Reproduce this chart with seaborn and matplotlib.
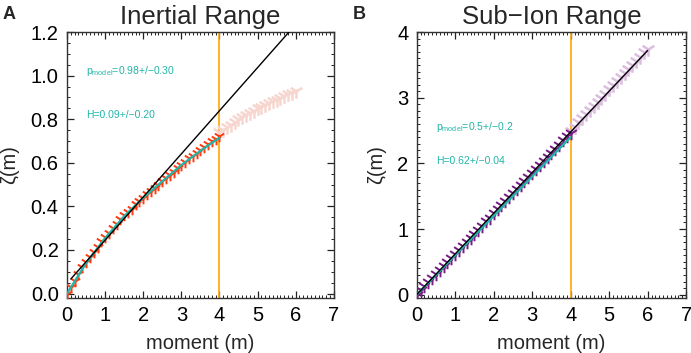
import numpy as np
import matplotlib
matplotlib.use("Agg")
import matplotlib.pyplot as plt
from matplotlib.ticker import MultipleLocator
import pandas as pd
import seaborn as sns

# panel A: inertial range
m_fit = [round(0.1 * i, 1) for i in range(41)]
m_ext = [round(4.0 + 0.1 * i, 1) for i in range(21)]
zeta_A = [0.00, 0.03, 0.06, 0.09, 0.12, 0.145, 0.17, 0.19, 0.215, 0.24,
          0.26, 0.28, 0.30, 0.32, 0.34, 0.36, 0.375, 0.39, 0.41, 0.425,
          0.44, 0.455, 0.47, 0.485, 0.50, 0.515, 0.53, 0.545, 0.56, 0.575,
          0.59, 0.605, 0.62, 0.633, 0.646, 0.659, 0.672, 0.685, 0.698, 0.71,
          0.722]
zeta_A_ext = [0.74, 0.752, 0.764, 0.776, 0.788, 0.80, 0.81, 0.82, 0.83, 0.84,
              0.85, 0.858, 0.866, 0.874, 0.882, 0.89, 0.898, 0.906, 0.914,
              0.922, 0.93]
model_m = [0, 0.5, 1, 1.5, 2, 2.5, 3, 3.5, 4]
model_A = [0.0, 0.14, 0.255, 0.355, 0.44, 0.515, 0.59, 0.655, 0.715]
k41_m_A = [0.1, 6.0]
k41_A = [0.067, 1.235]

# panel B: sub-ion range
zeta_B = [0.00, 0.065, 0.13, 0.19, 0.255, 0.315, 0.375, 0.44, 0.50, 0.56,
          0.62, 0.68, 0.745, 0.805, 0.865, 0.93, 0.99, 1.05, 1.115, 1.175,
          1.24, 1.30, 1.36, 1.425, 1.485, 1.545, 1.61, 1.67, 1.73, 1.795,
          1.855, 1.915, 1.98, 2.04, 2.10, 2.165, 2.225, 2.285, 2.35, 2.41,
          2.47]
zeta_B_ext = [2.50, 2.56, 2.63, 2.69, 2.75, 2.82, 2.88, 2.94, 3.00, 3.06,
              3.13, 3.19, 3.25, 3.31, 3.38, 3.44, 3.50, 3.56, 3.62, 3.69,
              3.75]
model_B = [0.0, 0.30, 0.60, 0.90, 1.20, 1.50, 1.80, 2.10, 2.40]
k41_m_B = [0.0, 6.0]
k41_B = [0.0, 3.72]

panels = [
    dict(title="Inertial Range", letter="A", z=zeta_A, zx=zeta_A_ext, mod=model_A,
         km=k41_m_A, k=k41_A, col="#ff3a10", colx="#f7d6d0", ylim=(-0.02, 1.2),
         major=0.2, minor=0.05, fmt="%.1f", ms=70,
         txt=["p$_{\\mathregular{model}}$=0.98+/\u22120.30", "H=0.09+/\u22120.20"],
         ty=[1.02, 0.82]),
    dict(title="Sub\u2212Ion Range", letter="B", z=zeta_B, zx=zeta_B_ext, mod=model_B,
         km=k41_m_B, k=k41_B, col="#761c84", colx="#dcbde0", ylim=(-0.05, 4.0),
         major=1, minor=0.1, fmt="%d", ms=95,
         txt=["p$_{\\mathregular{model}}$=0.5+/\u22120.2", "H=0.62+/\u22120.04"],
         ty=[2.56, 2.04]),
]

sns.set_style("ticks")
plt.rcParams["font.family"] = ["Liberation Sans", "DejaVu Sans"]
plt.rcParams["mathtext.fontset"] = "custom"
plt.rcParams["mathtext.rm"] = "Liberation Sans"
plt.rcParams["mathtext.it"] = "Liberation Sans"

fig = plt.figure(figsize=(6.91, 3.53), dpi=100)
boxes = [[0.097, 0.156, 0.386, 0.753], [0.603, 0.156, 0.39, 0.753]]
teal = "#22b5a8"

for p, box in zip(panels, boxes):
    ax = fig.add_axes(box)
    df = pd.DataFrame({"m": m_fit, "zeta": p["z"]})
    dfx = pd.DataFrame({"m": m_ext, "zeta": p["zx"]})
    sns.scatterplot(data=dfx, x="m", y="zeta", ax=ax, marker="1", s=110,
                    color=p["colx"], linewidth=1.8, zorder=2)
    sns.scatterplot(data=df, x="m", y="zeta", ax=ax, marker="1", s=p["ms"],
                    color=p["col"], linewidth=1.4, zorder=3)
    sns.lineplot(x=model_m, y=p["mod"], ax=ax, color=teal, lw=1.6, zorder=4)
    sns.lineplot(x=p["km"], y=p["k"], ax=ax, color="black", lw=1.0, zorder=5)
    ax.axvline(4, color="#ffa500", lw=1.2, zorder=1)

    for t, y in zip(p["txt"], p["ty"]):
        ax.text(0.5, y, t, color=teal, fontsize=7.5, va="center")

    ax.set_xlim(0, 7)
    ax.set_ylim(*p["ylim"])
    ax.xaxis.set_major_locator(MultipleLocator(1))
    ax.xaxis.set_minor_locator(MultipleLocator(0.1))
    ax.yaxis.set_major_locator(MultipleLocator(p["major"]))
    ax.yaxis.set_minor_locator(MultipleLocator(p["minor"]))
    ax.yaxis.set_major_formatter(matplotlib.ticker.FormatStrFormatter(p["fmt"]))
    ax.tick_params(which="both", direction="in", top=True, right=True,
                   labelsize=14.5, colors="#222222", labelcolor="black")
    ax.tick_params(which="major", length=5, width=0.9, pad=6)
    ax.tick_params(which="minor", length=2.5, width=0.7)
    for s in ax.spines.values():
        s.set_color("#333333")
        s.set_linewidth(1.0)
    ax.set_xlabel("moment (m)", fontsize=14.5, labelpad=6)
    ax.set_ylabel("\u03b6(m)", fontsize=14.5, labelpad=8)
    ax.set_title(p["title"], fontsize=18.5, pad=6)
    fig.text(box[0] - 0.093, 0.945, p["letter"], fontsize=13, fontweight="bold")

plt.savefig("out.png", dpi=100)
